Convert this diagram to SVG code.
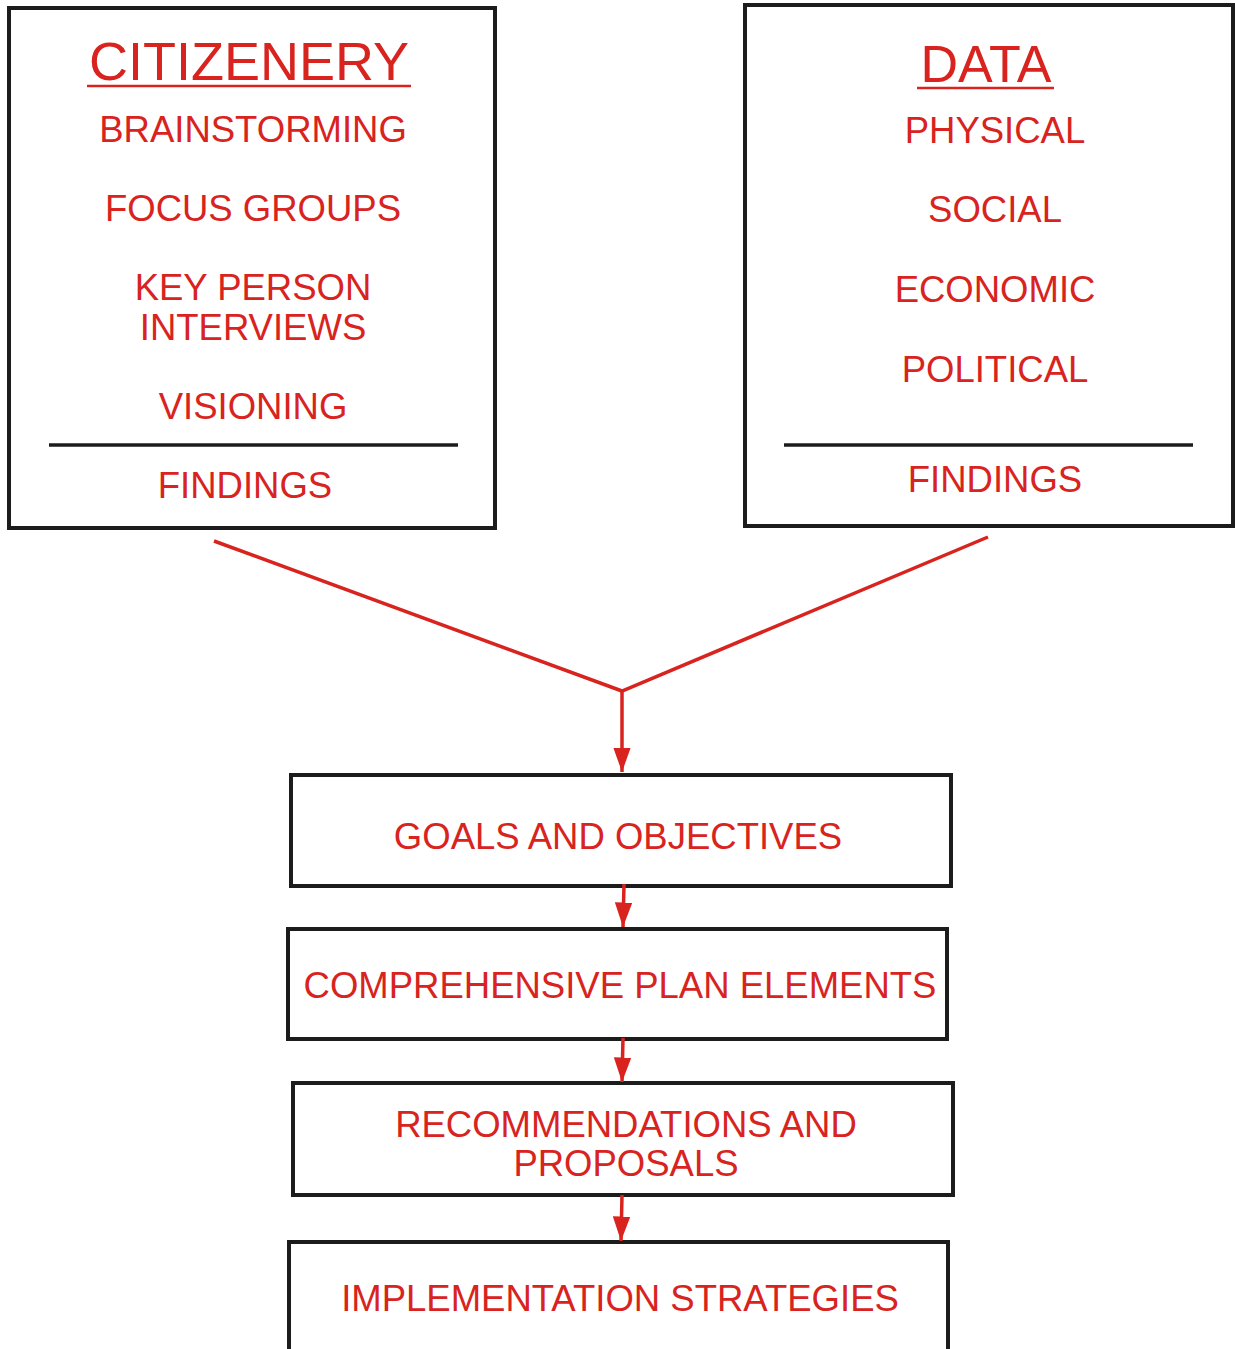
<svg xmlns="http://www.w3.org/2000/svg" width="1235" height="1349" viewBox="0 0 1235 1349">
  <style>
    .box { fill: #ffffff; stroke: #1c1c1c; stroke-width: 4; }
    .rule { stroke: #1c1c1c; stroke-width: 3.5; }
    .t { font-family: "Liberation Sans", Arial, sans-serif; fill: #d8231e; text-anchor: middle; }
    .head { font-size: 54px; }
    .item { font-size: 36.5px; }
    .step { font-size: 36.5px; }
    .link { fill: none; stroke: #d8231e; stroke-width: 3.5; }
    .uline { stroke: #d8231e; stroke-width: 2.5; }
  </style>
  <defs>
    <marker id="arrow" viewBox="0 0 14 10" refX="14" refY="5" markerWidth="7" markerHeight="5" markerUnits="strokeWidth" orient="auto">
      <path d="M0,0 L14,5 L0,10 Z" fill="#d8231e"/>
    </marker>
  </defs>

  <rect width="1235" height="1349" fill="#ffffff"/>

  <!-- Citizenery input box -->
  <g id="citizenery">
    <rect class="box" x="9" y="8" width="486" height="520"/>
    <text class="t head" x="249" y="80">CITIZENERY</text>
    <line class="uline" x1="87" y1="86" x2="411" y2="86"/>
    <text class="t item" x="253" y="142">BRAINSTORMING</text>
    <text class="t item" x="253" y="221">FOCUS GROUPS</text>
    <text class="t item" x="253" y="300">KEY PERSON</text>
    <text class="t item" x="253" y="340">INTERVIEWS</text>
    <text class="t item" x="253" y="419">VISIONING</text>
    <line class="rule" x1="49" y1="445" x2="458" y2="445"/>
    <text class="t item" x="245" y="498">FINDINGS</text>
  </g>

  <!-- Data input box -->
  <g id="data">
    <rect class="box" x="745" y="5" width="488" height="521"/>
    <text class="t head" x="986" y="82" style="font-size:52px">DATA</text>
    <line class="uline" x1="917" y1="88" x2="1054" y2="88"/>
    <text class="t item" x="995" y="143">PHYSICAL</text>
    <text class="t item" x="995" y="222">SOCIAL</text>
    <text class="t item" x="995" y="302">ECONOMIC</text>
    <text class="t item" x="995" y="382">POLITICAL</text>
    <line class="rule" x1="784" y1="445" x2="1193" y2="445"/>
    <text class="t item" x="995" y="492">FINDINGS</text>
  </g>

  <!-- Process steps -->
  <g id="goals">
    <rect class="box" x="291" y="775" width="660" height="111"/>
    <text class="t step" x="618" y="849">GOALS AND OBJECTIVES</text>
  </g>
  <g id="plan-elements">
    <rect class="box" x="288" y="929" width="659" height="110"/>
    <text class="t step" x="620" y="998">COMPREHENSIVE PLAN ELEMENTS</text>
  </g>
  <g id="recommendations">
    <rect class="box" x="293" y="1083" width="660" height="112"/>
    <text class="t step" x="626" y="1137">RECOMMENDATIONS AND</text>
    <text class="t step" x="626" y="1176">PROPOSALS</text>
  </g>
  <g id="implementation">
    <rect class="box" x="289" y="1242" width="659" height="130"/>
    <text class="t step" x="620" y="1311">IMPLEMENTATION STRATEGIES</text>
  </g>

  <!-- Connectors -->
  <g id="connectors">
    <polyline class="link" points="214,541 622,691 988,537"/>
    <line class="link" x1="622" y1="691" x2="622" y2="772" marker-end="url(#arrow)"/>
    <line class="link" x1="624" y1="884" x2="623" y2="927" marker-end="url(#arrow)"/>
    <line class="link" x1="623" y1="1038" x2="622" y2="1082" marker-end="url(#arrow)"/>
    <line class="link" x1="622" y1="1195" x2="621" y2="1241" marker-end="url(#arrow)"/>
  </g>
</svg>
